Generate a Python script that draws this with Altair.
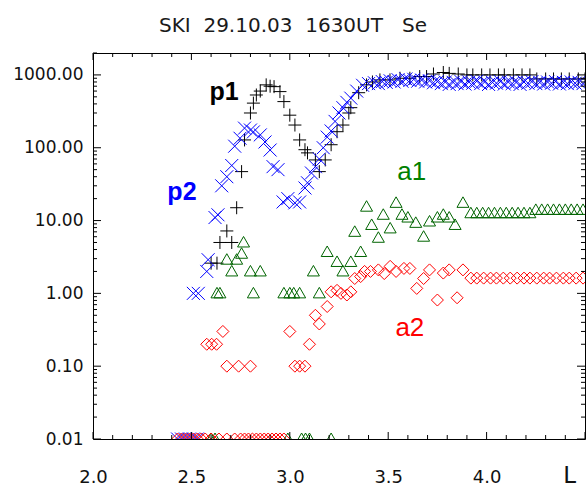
import altair as alt
import pandas as pd

TITLE = "SKI\u00a0\u00a029.10.03\u00a0\u00a01630UT\u00a0\u00a0\u00a0Se"
FLOOR = 0.01  # zero counts are drawn on the bottom axis

# ---- p1 (black +)
p1_L = [2.60, 2.63, 2.645, 2.68, 2.705, 2.73, 2.755, 2.77, 2.80, 2.815,
        2.83, 2.85, 2.88, 2.90, 2.92, 2.95, 2.97, 3.00, 3.026, 3.05,
        3.077, 3.09, 3.13, 3.15, 3.18, 3.21, 3.24, 3.27, 3.30, 3.31,
        3.35, 3.39, 3.42, 3.458, 3.509, 3.56, 3.61, 3.66, 3.695, 3.73,
        3.78, 3.81, 3.856, 3.90, 3.93, 3.975, 4.017, 4.06, 4.09, 4.136,
        4.18, 4.22, 4.255, 4.30, 4.34, 4.38, 4.42, 4.466, 4.50]
p1_v = [2.6, 2.6, 5.0, 7.2, 5.0, 15, 47, 128, 300, 410,
        530, 600, 730, 700, 690, 590, 430, 280, 205, 128,
        94, 85, 68, 47, 68, 110, 166, 205, 300, 355,
        570, 730, 800, 854, 854, 900, 900, 950, 950, 1030,
        1080, 1050, 1030, 1000, 1000, 1000, 1000, 1000, 1000, 1000,
        1000, 1000, 880, 880, 880, 880, 880, 880, 880]

# ---- p2 (blue x)
p2_zero_L = [2.43, 2.45, 2.47, 2.49, 2.51, 2.53]
p2_L = [2.51, 2.535, 2.578, 2.585, 2.62, 2.635, 2.654, 2.68, 2.705, 2.72,
        2.747, 2.77, 2.80, 2.815, 2.85, 2.874, 2.90, 2.915, 2.94, 2.966,
        2.99, 3.026, 3.05, 3.077, 3.09, 3.11, 3.13, 3.15, 3.17, 3.19,
        3.21, 3.23, 3.25, 3.27, 3.29, 3.31, 3.34, 3.37, 3.40,
        3.43, 3.45, 3.47, 3.49, 3.51, 3.53, 3.55, 3.57, 3.59, 3.61,
        3.63, 3.65, 3.67, 3.69, 3.71, 3.73, 3.75, 3.77, 3.79, 3.81,
        3.83, 3.85, 3.87, 3.89, 3.91, 3.93, 3.95, 3.97, 3.99, 4.01,
        4.03, 4.05, 4.07, 4.09, 4.11, 4.13, 4.15, 4.17, 4.19, 4.21,
        4.23, 4.25, 4.27, 4.29, 4.31, 4.33, 4.35, 4.37, 4.39, 4.41,
        4.43, 4.45, 4.47, 4.49]
p2_v = [1.0, 1.0, 2.0, 2.9, 11, 12, 30, 40, 57, 105,
        135, 186, 175, 165, 150, 120, 93, 55, 50, 18,
        20, 17.5, 18, 28, 33, 45, 55, 70, 100, 140,
        170, 230, 300, 355, 420, 480, 600, 720, 760,
        780, 760, 810, 790, 830, 800, 860, 820, 880, 840,
        870, 820, 850, 800, 830, 780, 810, 760, 800, 740,
        790, 760, 810, 750, 800, 770, 820, 760, 800, 740,
        790, 770, 810, 750, 800, 760, 790, 740, 800, 770,
        810, 760, 790, 750, 800, 770, 810, 750, 790, 760,
        800, 770, 790, 760]

# ---- a1 (green triangles)
a1_zero_L = [2.60, 2.62, 2.99, 3.06, 3.08, 3.10, 3.21]
a1_L = [2.63, 2.645, 2.68, 2.705, 2.73, 2.755, 2.765, 2.80, 2.815, 2.85,
        2.97, 3.00, 3.02, 3.05, 3.12, 3.15, 3.19, 3.24, 3.27, 3.31,
        3.33, 3.36, 3.39, 3.416, 3.45, 3.475, 3.51, 3.54, 3.57, 3.60,
        3.64, 3.68, 3.71, 3.75, 3.78, 3.81, 3.84, 3.88,
        3.92, 3.95, 3.98, 4.01, 4.04, 4.07, 4.10, 4.13, 4.16, 4.19, 4.22,
        4.25, 4.28, 4.31, 4.34, 4.37, 4.40, 4.43, 4.46, 4.49]
a1_v = [1.0, 1.0, 2.9, 2.0, 2.9, 3.5, 5.0, 2.0, 1.0, 2.0,
        1.0, 1.0, 1.0, 1.0, 2.0, 1.0, 3.7, 2.7, 2.0, 2.7,
        7.0, 3.7, 15.5, 8.7, 5.8, 12, 7.8, 17.5, 12, 11,
        9.3, 6.0, 9.7, 11, 12, 11, 8.7, 17.5,
        12.6, 12.6, 12.6, 12.6, 12.6, 12.6, 12.6, 12.6, 12.6, 12.6, 12.6,
        14, 14, 14, 14, 14, 14, 14, 14, 14]

# ---- a2 (red diamonds)
a2_zero_L = [2.43, 2.45, 2.47, 2.49, 2.51, 2.53, 2.55, 2.57, 2.60, 2.64,
             2.68, 2.72, 2.75, 2.77, 2.79, 2.81, 2.83, 2.85, 2.87, 2.89,
             2.91, 2.93, 2.95, 2.97]
a2_L = [2.578, 2.603, 2.628, 2.66, 2.68, 2.74, 2.80, 3.00, 3.026, 3.05,
        3.077, 3.10, 3.13, 3.15, 3.19, 3.21, 3.24, 3.26, 3.29, 3.31,
        3.33, 3.36, 3.38, 3.41, 3.45, 3.48, 3.51, 3.54, 3.58, 3.61,
        3.645, 3.68, 3.71, 3.75, 3.78, 3.81, 3.85, 3.88,
        3.92, 3.95, 3.985, 4.02, 4.05, 4.085, 4.12, 4.155, 4.19, 4.22,
        4.255, 4.29, 4.32, 4.355, 4.39, 4.42, 4.455, 4.49]
a2_v = [0.2, 0.2, 0.2, 0.3, 0.1, 0.1, 0.1, 0.3, 0.1, 0.1,
        0.1, 0.2, 0.5, 0.38, 0.66, 1.05, 1.1, 1.0, 0.95, 1.05,
        1.6, 1.7, 2.0, 2.0, 2.1, 1.87, 2.35, 2.0, 2.2, 2.2,
        1.17, 1.6, 2.1, 0.81, 1.9, 2.1, 0.87, 2.1,
        1.62, 1.62, 1.62, 1.62, 1.62, 1.62, 1.62, 1.62, 1.62, 1.62,
        1.62, 1.62, 1.62, 1.62, 1.62, 1.62, 1.62, 1.62]

# ---- in-plot labels
lab_text = ["p1", "p2", "a1", "a2"]
lab_L = [2.666, 2.452, 3.62, 3.61]
lab_v = [585, 24.5, 46, 0.335]

# ---- axis ticks
x_major = [2.0, 2.5, 3.0, 3.5, 4.0, 4.5]
x_minor = [2.1, 2.2, 2.3, 2.4, 2.6, 2.7, 2.8, 2.9, 3.1, 3.2, 3.3, 3.4,
           3.6, 3.7, 3.8, 3.9, 4.1, 4.2, 4.3, 4.4]
x_label_pos = [2.0, 2.5, 3.0, 3.5, 4.0, 4.42]
y_major = [0.01, 0.1, 1, 10, 100, 1000]
y_minor = [m * d for d in [0.01, 0.1, 1, 10, 100] for m in [2, 3, 4, 5, 6, 7, 8, 9]] + [2000]

W, H = 492, 386

xscale = alt.Scale(domain=[2.0, 4.5], nice=False, zero=False)
yscale = alt.Scale(type="log", domain=[0.01, 2000], nice=False)

x_axis = alt.Axis(values=x_label_pos, title=None, grid=False, ticks=False, tickSize=0,
                  domain=False, labelFlush=False, labelOverlap=False, labelBound=False,
                  labelExpr="datum.value > 4.1 ? 'L' : format(datum.value, '.1f')",
                  labelFont="DejaVu Sans", labelColor="#111",
                  labelFontSize={"condition": {"test": "datum.value > 4.1", "value": 23}, "value": 18},
                  labelBaseline="alphabetic", labelPadding=43)
y_axis = alt.Axis(values=y_major, format=".2f", title=None, grid=False, ticks=False, tickSize=0,
                  domain=False, labelFont="DejaVu Sans", labelFontSize=17, labelColor="#111",
                  labelPadding=10, labelOverlap=False, labelFlush=False)

X = alt.X("L:Q", scale=xscale, axis=x_axis)
Y = alt.Y("flux:Q", scale=yscale, axis=y_axis)


def series(L, v, zeros=None):
    Ls = list(L) + list(zeros or [])
    vs = list(v) + [FLOOR] * len(zeros or [])
    return pd.DataFrame({"L": Ls, "flux": vs})


PLUS = "M-1,0L1,0M0,-1L0,1"
XMARK = "M-1,-1L1,1M-1,1L1,-1"
TRI = "M0,-1L1,0.75L-1,0.75Z"
DIAM = "M0,-1L1,0L0,1L-1,0Z"


def pts(df, shape, color, size):
    return alt.Chart(df).mark_point(shape=shape, filled=False, color=color, size=size,
                                    strokeWidth=1, opacity=1, clip=True).encode(x=X, y=Y)


layers = [
    pts(series(p1_L, p1_v), PLUS, "#000000", 169),
    pts(series(p2_L, p2_v, p2_zero_L), XMARK, "#0000ff", 169),
    pts(series(a1_L, a1_v, a1_zero_L), TRI, "#006400", 144),
    pts(series(a2_L, a2_v, a2_zero_L), DIAM, "#ff0000", 144),
]

labels = pd.DataFrame({"L": lab_L, "flux": lab_v, "t": lab_text})
lab_colors = {"p1": "#000000", "p2": "#0000ff", "a1": "#008000", "a2": "#ff0000"}
for name in lab_text:
    bold = name.startswith("p")
    layers.append(
        alt.Chart(labels[labels.t == name]).mark_text(
            font="Liberation Sans", fontSize=25 if bold else 26,
            fontWeight="bold" if bold else "normal", color=lab_colors[name],
            align="center", baseline="middle").encode(x=X, y=Y, text="t:N"))


# inward ticks on all four sides
def yticks(vals, length):
    d = pd.DataFrame({"flux": vals})
    left = alt.Chart(d).mark_rule(color="black", strokeWidth=1).encode(
        y=Y, x=alt.value(0), x2=alt.value(length))
    right = alt.Chart(d).mark_rule(color="black", strokeWidth=1).encode(
        y=Y, x=alt.value(W), x2=alt.value(W - length))
    return [left, right]


def xticks(vals, length):
    d = pd.DataFrame({"L": vals})
    bottom = alt.Chart(d).mark_rule(color="black", strokeWidth=1).encode(
        x=X, y=alt.value(H), y2=alt.value(H - length))
    top = alt.Chart(d).mark_rule(color="black", strokeWidth=1).encode(
        x=X, y=alt.value(0), y2=alt.value(length))
    return [bottom, top]


tick_layers = yticks(y_major, 8) + yticks(y_minor, 4) + xticks(x_major, 7) + xticks(x_minor, 4)

chart = alt.layer(*layers, *tick_layers).properties(
    width=W, height=H,
    title=alt.TitleParams(TITLE, font="DejaVu Sans", fontSize=20, fontWeight="normal",
                          color="#1a1a1a", anchor="middle", frame="group", dx=-46,
                          baseline="alphabetic", offset=1),
    autosize=alt.AutoSizeParams(type="none"),
    padding={"left": 93, "top": 53, "right": 1, "bottom": 47},
    background="white",
).configure_view(stroke="black", strokeWidth=1)

chart.save("out.html", embed_options={"renderer": "svg", "actions": False})
